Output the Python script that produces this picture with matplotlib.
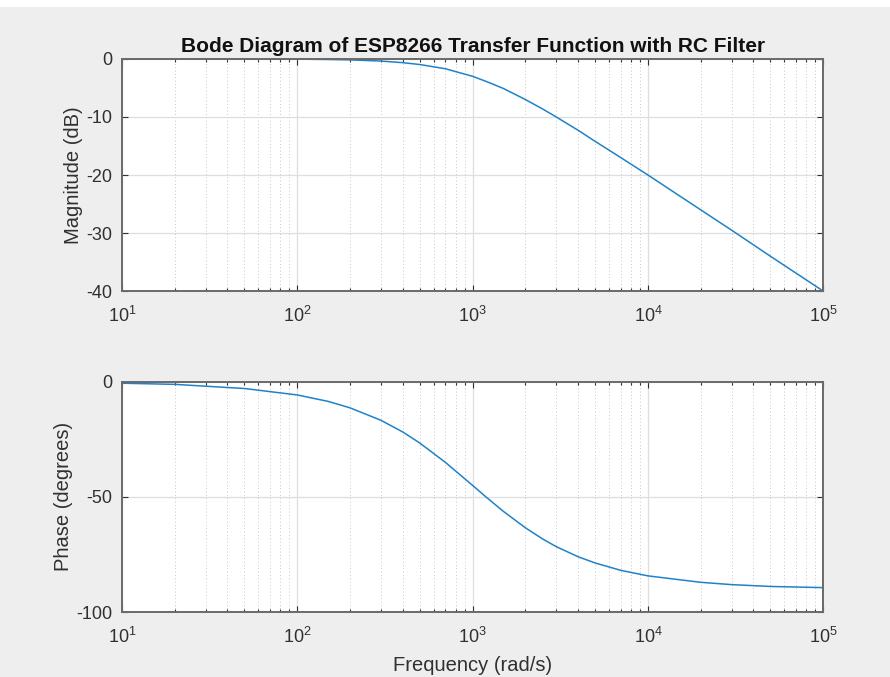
import matplotlib.pyplot as plt
from matplotlib.patches import Rectangle

# values
freq = [10, 20, 50, 100, 150, 200, 300, 400, 500, 700, 1000, 1200, 1500, 2000, 2500,
        3000, 4000, 5000, 7000, 10000, 20000, 30000, 50000, 100000]
mag_db = [0.0, 0.0, -0.01, -0.04, -0.1, -0.17, -0.37, -0.65, -0.97, -1.7, -3.0, -3.9,
          -5.1, -7.0, -8.6, -10.0, -12.3, -14.2, -17.0, -20.0, -26.0, -29.5, -34.0, -40.0]
phase_deg = [-0.6, -1.1, -2.9, -5.7, -8.5, -11.3, -16.7, -21.8, -26.6, -35.0, -45.0,
             -50.2, -56.3, -63.4, -68.2, -71.6, -76.0, -78.7, -81.9, -84.3, -87.1,
             -88.1, -88.9, -89.4]

mag_ticks = [-40, -30, -20, -10, 0]
phase_ticks = [-100, -50, 0]

plt.rcParams['font.family'] = ['Liberation Sans', 'DejaVu Sans']
plt.rcParams['axes.unicode_minus'] = False
plt.rcParams['mathtext.fontset'] = 'custom'
plt.rcParams['mathtext.rm'] = 'Liberation Sans'
plt.rcParams['mathtext.it'] = 'Liberation Sans:italic'
bg = '#eeeeee'
axcol = '#303030'
line_col = '#1f82c9'

fig = plt.figure(figsize=(8.9, 6.77), dpi=100, facecolor=bg)
# thin white strip along the top edge of the screenshot
fig.patches.append(Rectangle((0, 1 - 7 / 677), 1, 7 / 677, transform=fig.transFigure,
                             facecolor='white', edgecolor='none'))
ax1 = fig.add_axes([0.137, 0.570, 0.788, 0.343])
ax2 = fig.add_axes([0.137, 0.096, 0.788, 0.340])


def style(ax, ylim, yticks):
    ax.set_xscale('log')
    ax.set_xlim(10, 1e5)
    ax.set_ylim(*ylim)
    ax.set_yticks(yticks)
    ax.grid(True, which='major', color='#dedede', linewidth=0.9)
    ax.grid(True, which='minor', axis='x', color='#b4b4b4', linestyle=(0, (1, 3)), linewidth=0.6)
    ax.tick_params(which='both', direction='in', top=True, right=True, colors=axcol,
                   labelsize=13, width=0.8)
    ax.tick_params(which='major', length=4)
    ax.tick_params(which='minor', length=2.5)
    ax.tick_params(axis='x', pad=11)
    ax.tick_params(axis='y', pad=7)
    for s in ax.spines.values():
        s.set_color('#6a6a6a')
        s.set_linewidth(1.4)
    ax.set_axisbelow(True)


ax1.plot(freq, mag_db, color=line_col, linewidth=1.1, clip_on=False)
style(ax1, (-40, 0), mag_ticks)
ax1.set_ylabel('Magnitude (dB)', fontsize=14.5, color=axcol, labelpad=2)
ax1.set_title('Bode Diagram of ESP8266 Transfer Function with RC Filter',
              fontsize=15, fontweight='bold', color='#111111', pad=5)

ax2.plot(freq, phase_deg, color=line_col, linewidth=1.1, clip_on=False)
style(ax2, (-100, 0), phase_ticks)
ax2.set_ylabel('Phase (degrees)', fontsize=14.5, color=axcol, labelpad=2)
ax2.set_xlabel('Frequency (rad/s)', fontsize=14.5, color=axcol, labelpad=6)

fig.savefig('out.png', dpi=100, facecolor=bg)
